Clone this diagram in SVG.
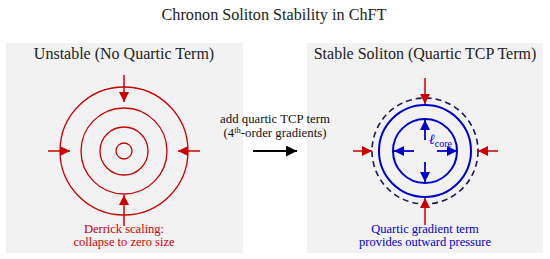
<svg xmlns="http://www.w3.org/2000/svg" width="550" height="259" viewBox="0 0 550 259">
<defs>
<marker id="mr" viewBox="0 0 10 10" refX="10" refY="5" markerWidth="10" markerHeight="10" markerUnits="userSpaceOnUse" orient="auto"><path d="M0,0 L10,5 L0,10 z" fill="#cc0000"/></marker>
<marker id="mb" viewBox="0 0 10 10" refX="10" refY="5" markerWidth="10" markerHeight="10" markerUnits="userSpaceOnUse" orient="auto"><path d="M0,0 L10,5 L0,10 z" fill="#0000cc"/></marker>
<marker id="mk" viewBox="0 0 10 10" refX="10" refY="5" markerWidth="11" markerHeight="11" markerUnits="userSpaceOnUse" orient="auto"><path d="M0,0 L10,5 L0,10 z" fill="#000"/></marker>
</defs>
<style>
text{font-family:"Liberation Serif","DejaVu Serif",serif;text-anchor:middle}
.panel{fill:#f2f2f2}
.rc{fill:none;stroke:#cc0000;stroke-width:1.3}
.bc{fill:none;stroke:#0000cc;stroke-width:2}
.dc{fill:none;stroke:#1a1a4d;stroke-width:1.6;stroke-dasharray:6,4}
.ra{stroke:#cc0000;stroke-width:1.5;marker-end:url(#mr)}
.ba{stroke:#0000cc;stroke-width:1.8;marker-end:url(#mb)}
.ka{stroke:#000;stroke-width:2;marker-end:url(#mk)}
.ttl{font-size:16.2px;fill:#222}
.ptl{font-size:16px;fill:#222}
.red{font-size:12.5px;fill:#cc0000}
.blue{font-size:12.5px;fill:#0000cc}
.mid{font-size:12.8px;fill:#111}
</style>
<text class="ttl" x="274" y="20">Chronon Soliton Stability in ChFT</text>
<g id="panel-unstable">
<rect class="panel" x="6" y="43" width="237" height="210"/>
<text class="ptl" x="124" y="59">Unstable (No Quartic Term)</text>
<circle class="rc" cx="124" cy="151" r="64"/>
<circle class="rc" cx="124" cy="151" r="43"/>
<circle class="rc" cx="124" cy="151" r="24"/>
<circle class="rc" cx="124" cy="151" r="8"/>
<text class="red" x="124" y="233">Derrick scaling:</text>
<text class="red" x="124" y="246">collapse to zero size</text>
</g>
<g id="panel-stable">
<rect class="panel" x="307" y="43" width="236" height="210"/>
<text class="ptl" x="425" y="59">Stable Soliton (Quartic TCP Term)</text>
<circle class="dc" cx="425" cy="151" r="53"/>
<circle class="bc" cx="425" cy="151" r="46"/>
<circle class="bc" cx="425" cy="151" r="32"/>
<text x="429" y="144" style="font-size:14px;fill:#0000cc;text-anchor:start"><tspan font-style="italic">ℓ</tspan><tspan font-size="10" dy="3">core</tspan></text>
<text class="blue" x="425" y="233">Quartic gradient term</text>
<text class="blue" x="425" y="246">provides outward pressure</text>
</g>
<g id="label-transition">
<text class="mid" x="275" y="123">add quartic TCP term</text>
<text class="mid" x="275" y="137">(4<tspan font-size="8.5" dy="-4.5">th</tspan><tspan dy="4.5">-order gradients)</tspan></text>
</g>
<g id="connectors">
<line class="ra" x1="124" y1="75" x2="124" y2="102"/>
<line class="ra" x1="124" y1="226" x2="124" y2="195"/>
<line class="ra" x1="48" y1="151" x2="70" y2="151"/>
<line class="ra" x1="200" y1="151" x2="178" y2="151"/>
<line class="ra" x1="425" y1="78" x2="425" y2="104"/>
<line class="ra" x1="425" y1="225" x2="425" y2="198"/>
<line class="ra" x1="353" y1="151" x2="372" y2="151"/>
<line class="ra" x1="498" y1="151" x2="478" y2="151"/>
<line class="ba" x1="425" y1="140" x2="425" y2="120"/>
<line class="ba" x1="425" y1="162" x2="425" y2="182"/>
<line class="ba" x1="414" y1="151" x2="394" y2="151"/>
<line class="ba" x1="437" y1="151" x2="457" y2="151"/>
<line class="ka" x1="253" y1="151" x2="297" y2="151"/>
</g>
</svg>
